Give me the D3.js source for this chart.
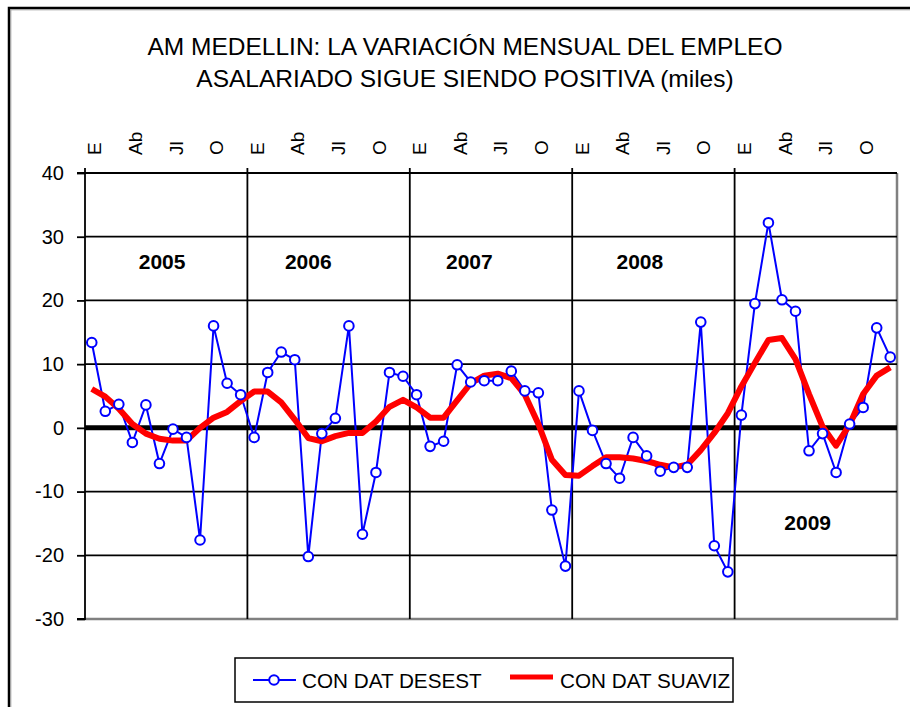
<!DOCTYPE html>
<html><head><meta charset="utf-8">
<script src="https://cdn.jsdelivr.net/npm/d3@7"></script>
<style>body{margin:0;background:#fff}svg{display:block}text{font-family:"Liberation Sans",Arial,sans-serif}</style>
</head><body><svg id="c" width="910" height="707"></svg>
<script>
const years = [2005, 2006, 2007, 2008, 2009];
const monthAbbr = ["E","F","M","Ab","My","Jn","Jl","Ag","S","O","N","D"];
const tickMonths = ["E","Ab","Jl","O"];
const yTicks = [40, 30, 20, 10, 0, -10, -20, -30];
const desest = [13.4, 2.6, 3.7, -2.3, 3.6, -5.6, -0.2, -1.5, -17.6, 16.0, 7.0, 5.2,
                -1.5, 8.7, 11.9, 10.7, -20.2, -0.9, 1.5, 16.0, -16.7, -7.0, 8.7, 8.1,
                5.2, -2.9, -2.1, 9.9, 7.2, 7.4, 7.4, 8.9, 5.8, 5.5, -12.9, -21.7,
                5.8, -0.4, -5.6, -7.9, -1.5, -4.4, -6.8, -6.2, -6.2, 16.6, -18.5, -22.6,
                2.0, 19.5, 32.2, 20.1, 18.3, -3.6, -0.9, -7.0, 0.6, 3.2, 15.7, 11.1];
const suaviz = [6.1, 4.9, 3.0, 0.6, -0.9, -1.7, -2.0, -2.0, 0.0, 1.6, 2.5, 4.2,
                5.7, 5.7, 4.0, 1.3, -1.6, -2.1, -1.3, -0.8, -0.8, 1.0, 3.3, 4.4,
                3.2, 1.6, 1.6, 4.3, 7.0, 8.2, 8.5, 7.8, 5.2, 0.6, -5.0, -7.4,
                -7.5, -6.0, -4.6, -4.6, -4.8, -5.2, -5.8, -6.2, -5.8, -3.5, -0.8, 2.3,
                6.5, 10.2, 13.8, 14.1, 10.8, 5.3, 0.2, -2.8, 0.5, 5.3, 8.2, 9.5];
const yearNotes = [
  {label:"2005", month:5.7, value:26.1},
  {label:"2006", month:16.5, value:26.1},
  {label:"2007", month:28.4, value:26.1},
  {label:"2008", month:41.0, value:26.1},
  {label:"2009", month:53.4, value:-14.9}
];
const titleLines = ["AM MEDELLIN: LA VARIACIÓN MENSUAL DEL EMPLEO", "ASALARIADO SIGUE SIENDO POSITIVA (miles)"];
const seriesNames = ["CON DAT DESEST", "CON DAT SUAVIZ"];

const months = d3.range(years.length * 12);
const svg = d3.select("#c");
const L = 85, R = 897, T = 173, B = 619;
const x = d3.scaleBand().domain(months).range([L, R]).padding(0);
const cx = i => x(i) + x.bandwidth() / 2;
const xl = d3.scaleLinear().domain([0, months.length]).range([L, R]);
const y = d3.scaleLinear().domain([-30, 40]).range([B, T]);

// outer frame
svg.append("rect").attr("x", 9).attr("y", 8).attr("width", 1000).attr("height", 1000)
  .attr("fill", "none").attr("stroke", "#000").attr("stroke-width", 2.5);
svg.append("rect").attr("x", 10.8).attr("y", 9.8).attr("width", 1000).attr("height", 1000)
  .attr("fill", "none").attr("stroke", "#999").attr("stroke-width", 1);

// title
svg.append("g").selectAll("text").data(titleLines).join("text")
  .attr("x", 465).attr("y", (d, i) => 55 + i * 32)
  .attr("text-anchor", "middle").attr("font-size", 24.5).attr("fill", "#000")
  .text(d => d);

// plot area border (gray shadow at bottom/right)
svg.append("path").attr("d", `M${L},${B}H${R}V${T}`).attr("fill", "none")
  .attr("stroke", "#808080").attr("stroke-width", 2.5);

// horizontal gridlines
svg.append("g").selectAll("line").data(yTicks.filter(v => v !== -30 && v !== 0)).join("line")
  .attr("x1", L).attr("x2", R).attr("y1", d => y(d)).attr("y2", d => y(d))
  .attr("stroke", "#000").attr("stroke-width", 1.8);

// vertical year lines
svg.append("g").selectAll("line").data(years.map((d, i) => i * 12).filter(m => m > 0)).join("line")
  .attr("x1", d => xl(d)).attr("x2", d => xl(d)).attr("y1", T - 5).attr("y2", B)
  .attr("stroke", "#000").attr("stroke-width", 1.8);
svg.append("line").attr("x1", L).attr("x2", L).attr("y1", T - 5).attr("y2", T)
  .attr("stroke", "#000").attr("stroke-width", 1.8);

// y axis
const yAxis = svg.append("g").attr("transform", `translate(${L},0)`)
  .call(d3.axisLeft(y).tickValues(yTicks).tickSize(8).tickPadding(13).tickFormat(d => String(d)));
yAxis.select(".domain").attr("stroke", "#000").attr("stroke-width", 1.8).attr("d", `M-8,${T}H0V${B}H-8`);
yAxis.selectAll(".tick line").attr("stroke", "#000").attr("stroke-width", 1.8);
yAxis.selectAll(".tick text").attr("font-size", 20).attr("fill", "#000")
  .attr("font-family", '"Liberation Sans", Arial, sans-serif');

// top month labels
const tickIdx = months.filter(m => tickMonths.includes(monthAbbr[m % 12]));
const xAxis = svg.append("g").attr("transform", `translate(0,${T})`)
  .call(d3.axisTop(x).tickValues(tickIdx).tickSize(0).tickFormat(m => monthAbbr[m % 12]));
xAxis.select(".domain").remove();
xAxis.selectAll(".tick text")
  .attr("transform", "translate(3,-18) rotate(-90)")
  .attr("x", 0).attr("y", 0).attr("dy", "0.35em")
  .attr("text-anchor", "start").attr("font-size", 19).attr("fill", "#000")
  .attr("font-family", '"Liberation Sans", Arial, sans-serif');

// zero line
svg.append("line").attr("x1", L).attr("x2", R).attr("y1", y(0)).attr("y2", y(0))
  .attr("stroke", "#000").attr("stroke-width", 5);

// year annotations
svg.append("g").selectAll("text").data(yearNotes).join("text")
  .attr("x", d => xl(d.month)).attr("y", d => y(d.value)).attr("dy", "0.35em")
  .attr("text-anchor", "middle").attr("font-size", 21).attr("font-weight", "bold")
  .attr("fill", "#000").text(d => d.label);

// blue series
const line = d3.line().x((d, i) => cx(i)).y(d => y(d));
svg.append("path").datum(desest).attr("d", line).attr("fill", "none")
  .attr("stroke", "#0000ff").attr("stroke-width", 2);
// red series
svg.append("path").datum(suaviz).attr("d", line).attr("fill", "none")
  .attr("stroke", "#ff0000").attr("stroke-width", 6).attr("stroke-linejoin", "round");
// markers
svg.append("g").selectAll("circle").data(desest).join("circle")
  .attr("cx", (d, i) => cx(i)).attr("cy", d => y(d)).attr("r", 4.8)
  .attr("fill", "#fff").attr("stroke", "#0000ff").attr("stroke-width", 2);

// legend
const lg = svg.append("g");
lg.append("rect").attr("x", 235).attr("y", 658).attr("width", 498).attr("height", 44)
  .attr("fill", "#fff").attr("stroke", "#000").attr("stroke-width", 1.5);
lg.append("line").attr("x1", 253).attr("x2", 296).attr("y1", 680).attr("y2", 680)
  .attr("stroke", "#0000ff").attr("stroke-width", 2);
lg.append("circle").attr("cx", 274).attr("cy", 680).attr("r", 4.8)
  .attr("fill", "#fff").attr("stroke", "#0000ff").attr("stroke-width", 2);
lg.append("line").attr("x1", 510).attr("x2", 553).attr("y1", 677).attr("y2", 677)
  .attr("stroke", "#ff0000").attr("stroke-width", 5);
lg.selectAll("text").data(seriesNames).join("text")
  .attr("x", (d, i) => i === 0 ? 302 : 560).attr("y", 688)
  .attr("font-size", 20.7).attr("fill", "#000").text(d => d);
</script></body></html>
